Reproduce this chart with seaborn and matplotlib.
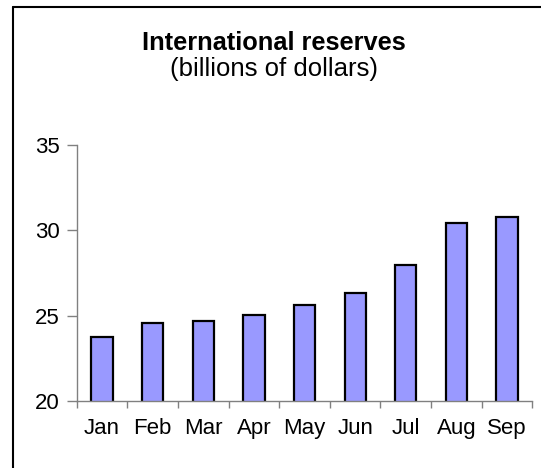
import matplotlib
matplotlib.use("Agg")
import matplotlib.pyplot as plt
from matplotlib.lines import Line2D
import seaborn as sns
import pandas as pd

months = ["Jan", "Feb", "Mar", "Apr", "May", "Jun", "Jul", "Aug", "Sep"]
reserves = [23.73, 24.57, 24.67, 25.06, 25.6, 26.3, 27.95, 30.4, 30.76]
y_ticks = [20, 25, 30, 35]

sns.set_style("white")
plt.rcParams["font.family"] = ["Liberation Sans", "DejaVu Sans"]
plt.rcParams["text.color"] = "black"
plt.rcParams["xtick.color"] = "black"
plt.rcParams["ytick.color"] = "black"

df = pd.DataFrame({"month": months, "reserves": reserves})

fig = plt.figure(figsize=(5.41, 4.68), dpi=100)
ax = fig.add_axes([0.1418, 0.1432, 0.8422, 0.5470])

sns.barplot(data=df, x="month", y="reserves", ax=ax, color="#9999FF",
            saturation=1, width=0.42, edgecolor="black", linewidth=1.6)

ax.set_ylim(20, 35)
ax.set_xlim(-0.5, len(months) - 0.5)
ax.set_yticks(y_ticks)
ax.set_yticklabels([str(t) for t in y_ticks], fontsize=16)

# category boundaries carry the tick marks, centers carry the labels
ax.set_xticks([i - 0.5 for i in range(len(months) + 1)])
ax.set_xticklabels([])
ax.set_xticks(range(len(months)), minor=True)
ax.set_xticklabels(months, minor=True, fontsize=16)
ax.tick_params(axis="x", which="major", direction="out", length=5,
               width=1, color="#808080", bottom=True)
ax.tick_params(axis="x", which="minor", length=0, pad=12)
ax.tick_params(axis="y", direction="out", length=7, width=1,
               color="#808080", left=True, pad=5)

for side in ("top", "right"):
    ax.spines[side].set_visible(False)
for side in ("left", "bottom"):
    ax.spines[side].set_color("#808080")
    ax.spines[side].set_linewidth(1)

ax.set_xlabel("")
ax.set_ylabel("")

fig.text(0.5065, 1 - 43 / 468, "International reserves", ha="center",
         va="center", fontsize=18.3, fontweight="bold")
fig.text(0.5065, 1 - 69 / 468, "(billions of dollars)", ha="center",
         va="center", fontsize=18.5)

# chart frame
x0 = 13 / 541
y0 = 1 - 7 / 468
fig.add_artist(Line2D([x0, x0], [0, y0], transform=fig.transFigure,
                      color="black", linewidth=1.5))
fig.add_artist(Line2D([x0, 1], [y0, y0], transform=fig.transFigure,
                      color="black", linewidth=1.5))

fig.savefig("out.png", dpi=100)
